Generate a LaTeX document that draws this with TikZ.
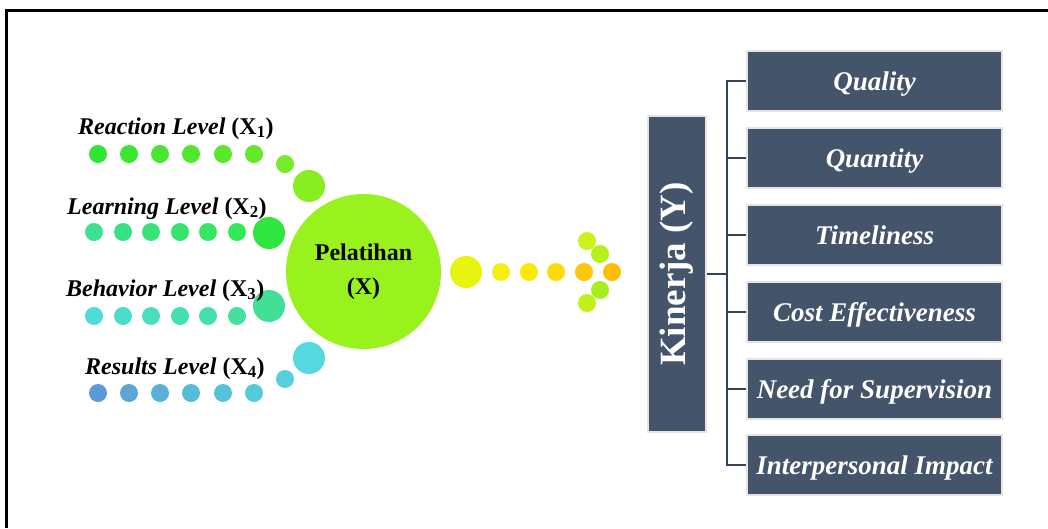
\documentclass[tikz,border=0pt]{standalone}
\usepackage{fontspec}
\setmainfont{Liberation Serif}
\begin{document}
\begin{tikzpicture}[x=1pt,y=-1pt,
  lbl/.style={anchor=base west,inner sep=0pt,font=\fontsize{24}{28}\selectfont\bfseries},
  dimbox/.style={draw=boxedge,line width=2pt,fill=boxfill,text=white,
    minimum width=255pt,minimum height=60pt,inner sep=0pt,
    text height=22pt,text depth=4pt,
    font=\fontsize{27}{30}\selectfont\bfseries\itshape},
  conn/.style={draw=connc,line width=2.2pt}]
\definecolor{boxfill}{HTML}{44546A}
\definecolor{boxedge}{HTML}{E4E4E4}
\definecolor{connc}{HTML}{34425A}
\definecolor{bigc}{HTML}{99F21E}
\useasboundingbox (0,0) rectangle (1048,528);
% frame
\draw[line width=2.6pt,black] (6.5,528) -- (6.5,10.5) -- (1048,10.5);
% row 1
\foreach \x/\c in {98/2EE633,129/3BE630,160/46E82E,191/50E82D,223/59E82B,254/63E82A}
  {\definecolor{tmp}{HTML}{\c}\fill[tmp] (\x,154) circle (9pt);}
\definecolor{tmp}{HTML}{77EC2A}\fill[tmp] (285,164) circle (9pt);
\definecolor{tmp}{HTML}{88EE22}\fill[tmp] (309,186) circle (16pt);
% row 2
\foreach \x/\c in {94/3DDF90,123/3AE084,151/38E278,180/36E46C,208/34E661,237/32E856}
  {\definecolor{tmp}{HTML}{\c}\fill[tmp] (\x,232) circle (9pt);}
\definecolor{tmp}{HTML}{2EE63F}\fill[tmp] (269,233) circle (16pt);
% row 3
\foreach \x/\c in {94/4DDCD6,123/4ADDCA,151/48DEBE,180/46DFB2,208/45E0A8,237/44E19E}
  {\definecolor{tmp}{HTML}{\c}\fill[tmp] (\x,316) circle (9pt);}
\definecolor{tmp}{HTML}{42E096}\fill[tmp] (269,306) circle (16pt);
% row 4
\foreach \x/\c in {98/5B9BD5,129/5AA7D6,160/59B2D6,191/57BCD7,223/56C4D8,254/55CBD9}
  {\definecolor{tmp}{HTML}{\c}\fill[tmp] (\x,393) circle (9pt);}
\definecolor{tmp}{HTML}{55D0DC}\fill[tmp] (285,379) circle (9pt);
\definecolor{tmp}{HTML}{55D8DE}\fill[tmp] (309,358) circle (16pt);
% labels
\node[lbl] (l1) at (78,134) {\textit{Reaction Level} (X\textsubscript{1})};
\node[lbl] (l2) at (67,214) {\textit{Learning Level} (X\textsubscript{2})};
\node[lbl] (l3) at (66,296) {\textit{Behavior Level} (X\textsubscript{3})};
\node[lbl] (l4) at (85,374) {\textit{Results Level} (X\textsubscript{4})};
% central circle
\node[circle,fill=bigc,minimum size=155pt,inner sep=0pt,align=center,
  font=\fontsize{24}{34}\selectfont\bfseries] (P) at (363.5,271.5) {Pelatihan\\(X)};
% arrow of dots
\definecolor{tmp}{HTML}{E6F50F}\fill[tmp] (466,272) circle (16pt);
\foreach \x/\c in {501/F5F012,529/FCE80A,556/FCD90B,584/FCC80C,612/FFBF00}
  {\definecolor{tmp}{HTML}{\c}\fill[tmp] (\x,272) circle (9pt);}
\foreach \x/\y/\c in {587/241/CCF21C,600/254/B5F01A,600/290/A6EE22,587/303/C2F01A}
  {\definecolor{tmp}{HTML}{\c}\fill[tmp] (\x,\y) circle (9pt);}
% Kinerja box
\node[draw=boxedge,line width=2pt,fill=boxfill,text=white,minimum width=58pt,
  minimum height=316pt,inner sep=0pt] (K) at (677,274) {};
\node[rotate=90,text=white,inner sep=0pt,font=\fontsize{37}{40}\selectfont\bfseries]
  (Kt) at (K.center) {Kinerja (Y)};
% dimension boxes
\node[dimbox] (b1) at (874.5,81) {Quality};
\node[dimbox] (b2) at (874.5,158) {Quantity};
\node[dimbox] (b3) at (874.5,235) {Timeliness};
\node[dimbox] (b4) at (874.5,312) {Cost Effectiveness};
\node[dimbox] (b5) at (874.5,389) {Need for Supervision};
\node[dimbox] (b6) at (874.5,465) {Interpersonal Impact};
% connectors
\coordinate (tr) at (727,274);
\draw[conn] (b1.west) -- (b1.west -| tr) -- (b6.west -| tr) -- (b6.west);
\foreach \i in {2,3,4,5} {\draw[conn] (b\i.west) -- (b\i.west -| tr);}
\draw[conn] (K.east) -- (tr);
\end{tikzpicture}
\end{document}
